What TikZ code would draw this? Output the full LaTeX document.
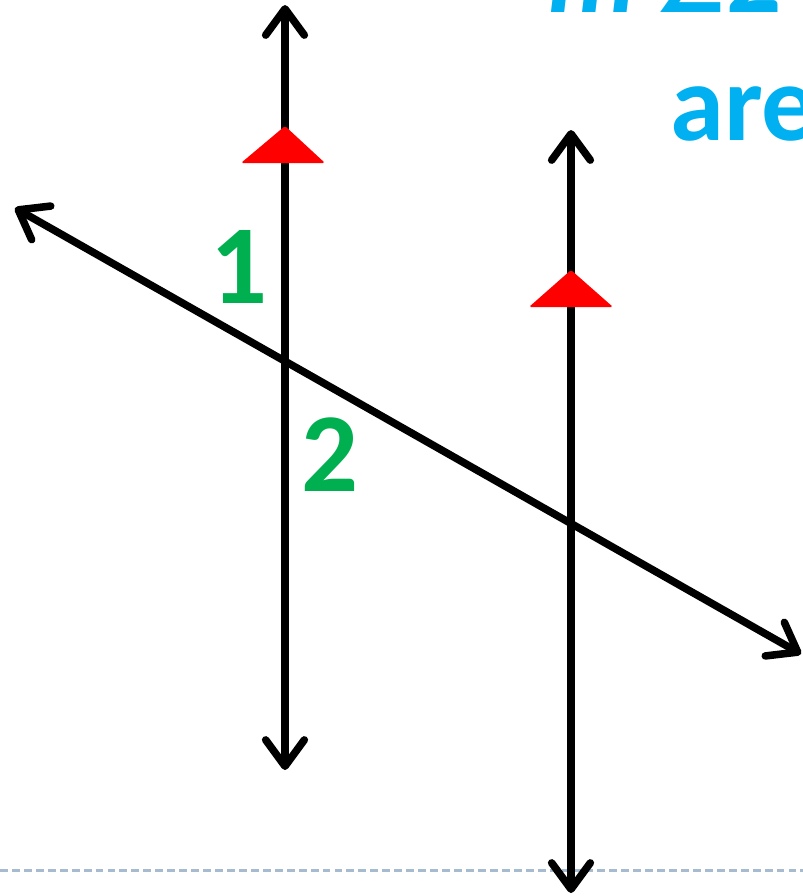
\documentclass[tikz,border=0pt]{standalone}
\usepackage{fontspec}
\setmainfont{Carlito}
\newfontfamily\symfont{DejaVu Sans}
\usetikzlibrary{arrows.meta}
\definecolor{slideblue}{RGB}{0,176,240}
\definecolor{anglegreen}{RGB}{0,176,80}
\definecolor{guidegray}{RGB}{166,187,207}

\begin{document}
\begin{tikzpicture}[
  x=0.02cm, y=-0.02cm,
  barb/.tip={Straight Barb[round, length=15pt, width=22pt]},
  line/.style={line width=4.3pt, barb-barb},
  parmark/.style={fill=red, rounded corners=1pt},
  num/.style={text=anglegreen, font=\fontsize{64}{64}\selectfont\bfseries, inner sep=0pt},
  title/.style={text=slideblue, font=\fontsize{62}{62}\selectfont\bfseries, inner sep=0pt, anchor=base west}
]
\useasboundingbox (0,0) rectangle (803,896);

% Dashed guide
\coordinate (g1) at (0,870);
\coordinate (g2) at (803,870);
\draw[guidegray, line width=1.7pt, dash pattern=on 4.5pt off 2.3pt] (g1) -- (g2);

% Title text (cut off by the frame)
\node[title] (t1) at (548,12) {\itshape m\upshape\,{\symfont\fontsize{46}{46}\selectfont ∠}2};
\node[title] (t2) at (670,140) {are};

% Lines
\coordinate (p1) at (285,5);
\coordinate (p2) at (285,770);
\coordinate (q1) at (571,130);
\coordinate (q2) at (571,893);
\coordinate (s1) at (15,208);
\coordinate (s2) at (801,654);
\draw[line] (p1) -- (p2);
\draw[line] (q1) -- (q2);
\draw[line] (s1) -- (s2);

% Parallel marks
\fill[parmark] (285,126) -- (325,163) -- (241,163) -- cycle;
\fill[parmark] (571,270) -- (613,307) -- (529,307) -- cycle;

% Angle labels
\node[num] (n1) at (239,267) {1};
\node[num] (n2) at (330,455) {2};
\end{tikzpicture}
\end{document}
